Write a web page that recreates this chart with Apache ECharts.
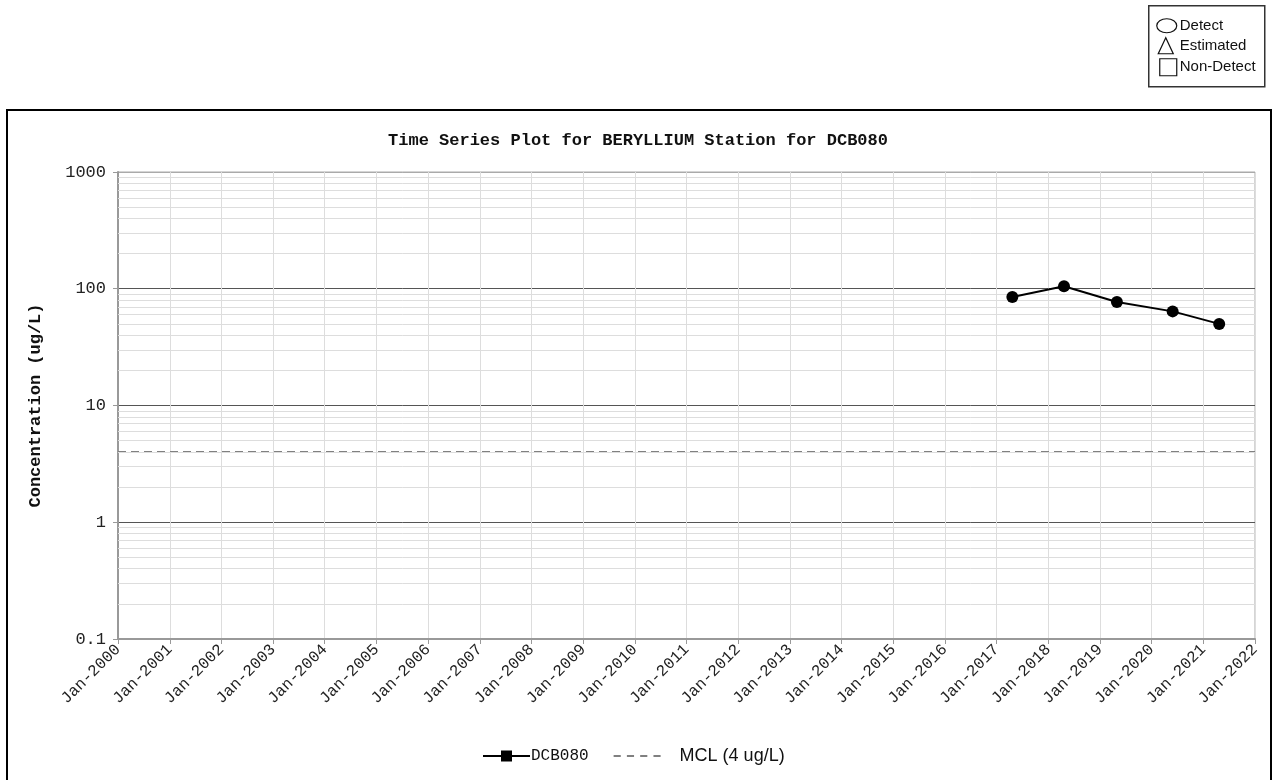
<!DOCTYPE html>
<html>
<head>
<meta charset="utf-8">
<script src="https://cdn.jsdelivr.net/npm/echarts@6/dist/echarts.min.js"></script>
<style>
  html, body { margin: 0; padding: 0; background: #fff; }
  #chart { width: 1276px; height: 780px; }
</style>
</head>
<body>
<div id="chart"></div>
<script>
// Sample dates and beryllium concentrations (ug/L) at station DCB080
const sampleDates = ['2017-04-22', '2018-04-22', '2019-05-01', '2020-05-29', '2021-04-23'];
const sampleValues = [85, 105, 77, 64, 50];

// Maximum contaminant level
const mclValue = 4;
const mclRange = ['2000-01-01', '2022-01-01'];

// Axis ranges
const xMin = '2000-01-01';
const xMax = '2022-01-01';
const yMin = 0.1;
const yMax = 1000;

const monthNames = ['Jan', 'Feb', 'Mar', 'Apr', 'May', 'Jun', 'Jul', 'Aug', 'Sep', 'Oct', 'Nov', 'Dec'];

// Minor log gridlines (2..9 within each decade)
const decades = [0.1, 1, 10, 100];
const minorSteps = [2, 3, 4, 5, 6, 7, 8, 9];
const minorLines = [];
decades.forEach(d => minorSteps.forEach(s => minorLines.push({ yAxis: +(d * s).toPrecision(3) })));

const mono = 'Liberation Mono';

const chart = echarts.init(document.getElementById('chart'), null, { renderer: 'canvas' });

chart.setOption({
  backgroundColor: '#ffffff',
  animation: false,
  title: {
    text: 'Time Series Plot for BERYLLIUM Station for DCB080',
    left: 'center',
    top: 127,
    textStyle: { fontFamily: mono, fontSize: 17, fontWeight: 'bold', color: '#111' }
  },
  grid: {
    left: 118, right: 21, top: 172, bottom: 141,
    show: true, borderColor: '#aaa', borderWidth: 1, backgroundColor: 'transparent'
  },
  legend: {
    left: 478,
    top: 742,
    itemWidth: 47,
    itemHeight: 12,
    itemGap: 25,
    symbolKeepAspect: true,
    data: [
      {
        name: 'DCB080',
        icon: 'path://M0,5 L18,5 L18,0.5 L29,0.5 L29,5 L47,5 L47,7 L29,7 L29,11.5 L18,11.5 L18,7 L0,7 Z',
        textStyle: { fontFamily: mono, fontSize: 16, color: '#111', padding: [0, 0, 0, -4] }
      },
      {
        name: 'MCL (4 ug/L)',
        icon: 'path://M0,0 L7,0 L7,2 L0,2 Z M13,0 L20,0 L20,2 L13,2 Z M26,0 L33,0 L33,2 L26,2 Z M39,0 L46,0 L46,2 L39,2 Z',
        textStyle: { fontFamily: 'Liberation Sans', fontSize: 18, color: '#111', padding: [0, 0, 0, 14] }
      }
    ]
  },
  xAxis: {
    type: 'time',
    min: xMin,
    max: xMax,
    minInterval: 365 * 24 * 3600 * 1000,
    maxInterval: 366 * 24 * 3600 * 1000,
    axisLine: { show: true, lineStyle: { color: '#999', width: 2 } },
    axisTick: { show: true, length: 5, lineStyle: { color: '#999' } },
    splitLine: { show: true, lineStyle: { color: '#ddd', width: 1 } },
    axisLabel: {
      rotate: 45,
      margin: 8,
      interval: 0,
      hideOverlap: false,
      showMinLabel: true,
      showMaxLabel: true,
      fontFamily: mono,
      fontSize: 16,
      color: '#222',
      formatter: function (v) {
        const d = new Date(v);
        return monthNames[d.getMonth()] + '-' + d.getFullYear();
      }
    }
  },
  yAxis: {
    type: 'log',
    logBase: 10,
    min: yMin,
    max: yMax,
    name: 'Concentration (ug/L)',
    nameLocation: 'middle',
    nameGap: 74,
    nameRotate: 90,
    nameTextStyle: { fontFamily: mono, fontSize: 17, fontWeight: 'bold', color: '#111' },
    axisLine: { show: true, lineStyle: { color: '#999', width: 2 } },
    axisTick: { show: true, length: 5, lineStyle: { color: '#999' } },
    splitLine: { show: true, lineStyle: { color: ['#999', '#555', '#555', '#555', '#aaa'], width: 1 } },
    axisLabel: {
      margin: 12,
      fontFamily: mono,
      fontSize: 17,
      color: '#222',
      formatter: function (v) { return String(v); }
    }
  },
  series: [
    {
      name: 'grid-minor',
      type: 'line',
      data: [],
      silent: true,
      markLine: {
        silent: true,
        symbol: 'none',
        label: { show: false },
        lineStyle: { color: '#ddd', type: 'solid', width: 1 },
        data: minorLines
      }
    },
    {
      name: 'MCL (4 ug/L)',
      type: 'line',
      data: mclRange.map(d => [d, mclValue]),
      symbol: 'none',
      color: '#808080',
      lineStyle: { color: '#808080', type: [8, 5], width: 2 },
      silent: true,
      z: 3
    },
    {
      name: 'DCB080',
      type: 'line',
      data: sampleDates.map((d, i) => [d, sampleValues[i]]),
      symbol: 'circle',
      symbolSize: 12,
      color: '#000',
      lineStyle: { color: '#000', width: 2 },
      itemStyle: { color: '#000' },
      z: 5
    }
  ],
  graphic: [
    // Outer frame around the plot
    {
      type: 'rect',
      shape: { x: 7, y: 110, width: 1264, height: 690 },
      style: { fill: 'none', stroke: '#000', lineWidth: 2 },
      silent: true
    },
    // Symbol key box
    {
      type: 'group',
      left: 1148,
      top: 5,
      children: [
        { type: 'rect', shape: { x: 0, y: 0, width: 116, height: 81 }, style: { fill: '#fff', stroke: '#333', lineWidth: 1.5 } },
        { type: 'ellipse', shape: { cx: 18, cy: 20, rx: 10, ry: 7 }, style: { fill: 'none', stroke: '#111', lineWidth: 1.2 } },
        { type: 'polygon', shape: { points: [[17, 32], [9.5, 48], [24.5, 48]] }, style: { fill: 'none', stroke: '#111', lineWidth: 1.2 } },
        { type: 'rect', shape: { x: 11, y: 53, width: 17, height: 17 }, style: { fill: 'none', stroke: '#111', lineWidth: 1.2 } },
        { type: 'text', x: 31, y: 20, style: { text: 'Detect', font: '15px "Liberation Sans"', fill: '#111', textVerticalAlign: 'middle' } },
        { type: 'text', x: 31, y: 40, style: { text: 'Estimated', font: '15px "Liberation Sans"', fill: '#111', textVerticalAlign: 'middle' } },
        { type: 'text', x: 31, y: 61, style: { text: 'Non-Detect', font: '15px "Liberation Sans"', fill: '#111', textVerticalAlign: 'middle' } }
      ]
    }
  ]
});
</script>
</body>
</html>
